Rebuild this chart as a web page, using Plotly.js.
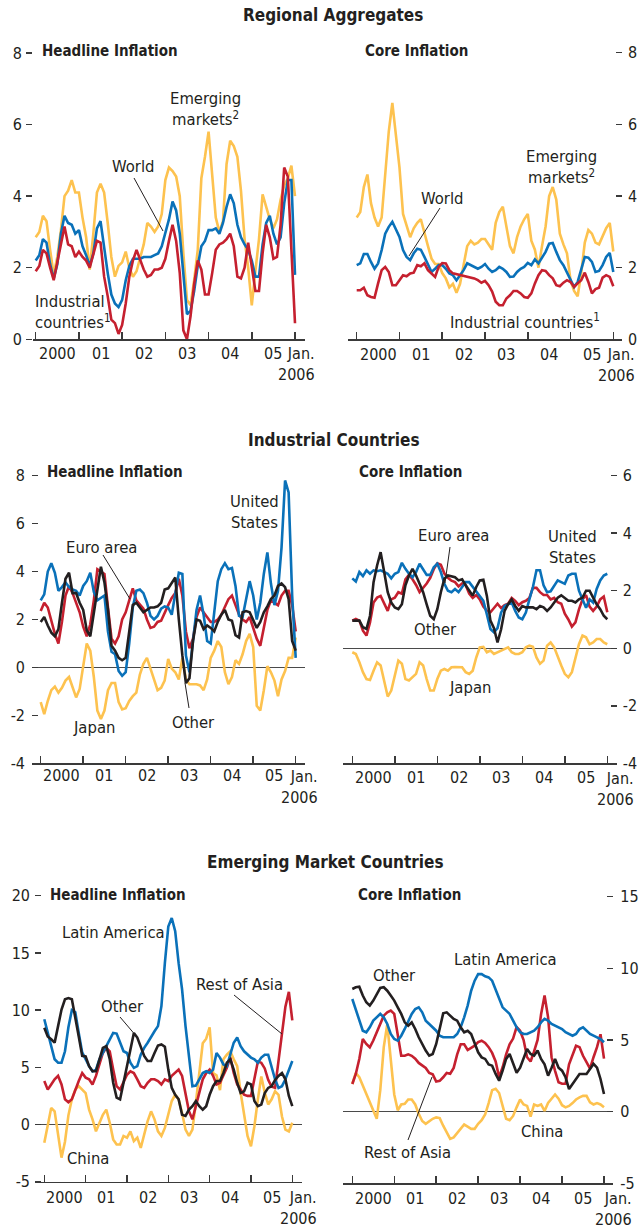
<!DOCTYPE html>
<html><head><meta charset="utf-8">
<script src="https://cdn.plot.ly/plotly-3.0.1.min.js"></script>
<style>html,body{margin:0;padding:0;background:#fff}</style>
</head><body><div id="chart" style="width:639px;height:1228px"></div>
<script>
// ---------- DATA (monthly, Jan 2000 .. Jan 2006) ----------
const monthIndex = [...Array(73).keys()];
const yearTicks = [0,12,24,36,48,60,72];
const yearLabelPos = [6,18,30,42,54,66];
const yearLabels = ['2000','01','02','03','04','05'];
const lastLabel = 'Jan.<br>2006';

// Regional aggregates – headline
const raHeadWorld = [2.2,2.35,2.8,2.7,2.1,1.7,2.1,2.95,3.45,3.25, 3.2,2.95,3.05,2.6,2.35,2.05,2.4,3.1,3.3,2.5, 1.85,1.25,1.0,0.9,1.1,1.65,2.05,2.25,2.25,2.25, 2.3,2.3,2.3,2.35,2.4,2.6,3.0,3.35,3.85,3.6, 2.95,1.75,0.7,0.8,1.35,2.05,2.6,2.75,3.05,3.05, 3.1,2.95,3.25,3.7,4.05,3.8,3.2,2.85,2.65,2.5, 2.2,1.75,1.75,2.65,3.25,3.45,2.95,2.65,2.85,3.8, 4.45,4.45,1.8];
const raHeadIndustrial = [1.9,2.05,2.5,2.4,2.0,1.65,2.15,2.7,3.15,2.65, 2.6,2.3,2.45,2.3,2.2,2.0,2.35,2.75,2.7,1.75, 1.2,0.55,0.45,0.15,0.4,1.0,1.75,2.2,2.5,2.2, 1.95,1.75,1.8,1.95,1.95,2.0,2.25,2.75,3.2,2.75, 1.85,0.25,0.0,0.65,1.55,2.2,1.95,1.25,1.25,1.85, 2.5,2.65,2.7,2.8,2.95,2.6,1.75,1.7,2.0,2.7, 2.0,1.35,1.35,2.4,3.2,2.85,2.25,2.3,3.2,4.8, 4.55,2.5,0.45];
const raHeadEmerging = [2.85,3.0,3.45,3.3,2.5,1.8,2.3,3.05,4.0,4.15, 4.45,4.1,4.1,3.4,2.85,1.95,2.95,4.1,4.35,4.1, 3.25,2.3,1.75,2.05,2.15,2.45,2.0,1.75,1.9,2.3, 2.65,3.25,3.15,3.0,3.15,3.5,4.45,4.8,4.7,4.55, 4.0,2.4,1.1,0.95,1.65,2.5,4.5,5.1,5.8,4.6, 3.4,3.0,3.3,4.9,5.55,5.4,5.1,4.15,2.8,2.0, 0.95,1.9,2.8,4.05,3.7,3.35,3.1,3.35,3.9,4.3, 4.5,4.85,4.0];
// Regional aggregates – core
const raCoreWorld = [2.07,2.12,2.38,2.38,2.16,1.97,2.12,2.49,2.95,3.14, 3.28,3.05,2.86,2.49,2.3,2.21,2.4,2.53,2.5,2.3, 2.07,1.88,1.97,2.07,2.07,1.97,1.84,1.79,1.65,1.79, 1.93,2.12,2.07,2.02,1.97,2.02,2.1,1.97,1.88,1.93, 2.02,1.97,1.88,1.74,1.75,1.88,1.97,2.02,2.13,2.07, 2.23,2.12,2.3,2.44,2.67,2.69,2.44,2.21,2.07,1.88, 1.65,1.46,1.6,1.93,2.3,2.28,2.16,1.88,1.91,2.07, 2.3,2.41,1.88];
const raCoreIndustrial = [1.37,1.37,1.44,1.23,1.18,1.16,1.56,1.93,2.02,1.88, 1.51,1.51,1.65,1.79,1.76,1.84,1.86,2.07,2.04,2.12, 1.93,1.82,1.74,2.02,2.13,2.12,1.93,1.84,1.82,1.79, 1.76,1.76,1.72,1.7,1.65,1.58,1.63,1.51,1.33,1.05, 0.95,0.95,1.14,1.23,1.35,1.35,1.28,1.18,1.16,1.28, 1.56,1.79,1.93,1.91,1.79,1.7,1.51,1.48,1.58,1.65, 1.6,1.46,1.56,1.65,1.86,1.6,1.28,1.4,1.44,1.72, 1.79,1.74,1.48];
const raCoreEmerging = [3.4,3.55,4.25,4.6,3.8,3.4,3.15,3.4,4.6,5.8, 6.6,5.7,4.8,3.5,3.2,2.85,3.1,3.25,3.35,2.95, 2.6,2.25,2.1,2.1,1.85,1.7,1.45,1.55,1.3,1.55, 2.05,2.6,2.75,2.65,2.7,2.8,2.8,2.65,2.5,3.25, 3.55,3.7,3.15,2.6,2.4,2.85,3.15,3.35,3.5,2.75, 2.5,2.0,2.6,3.15,4.0,4.25,3.9,2.95,2.65,2.4, 1.65,1.35,1.2,1.85,2.7,3.05,2.95,2.7,2.65,2.9, 3.1,3.25,2.45];
// Industrial countries – headline
const icHeadUS = [2.8,3.05,4.0,4.35,3.95,3.2,3.35,3.55,3.35,3.25, 3.2,3.0,3.4,3.6,3.95,3.15,2.8,2.9,3.0,1.5, 0.65,0.55,-0.15,-0.35,-0.2,1.0,2.5,3.2,3.25,3.1, 2.7,2.15,2.0,2.15,2.45,2.55,2.5,2.2,3.0,3.95, 3.9,0.5,-0.2,1.0,2.4,3.0,2.2,1.1,1.0,2.3, 3.6,4.1,4.35,4.1,4.15,3.4,2.15,2.1,2.8,3.6, 3.0,2.0,2.7,3.9,4.8,3.5,2.6,3.2,5.0,7.8, 7.3,3.0,0.4];
const icHeadEuro = [2.35,2.7,2.5,1.9,1.4,1.0,1.9,3.0,3.4,3.1, 2.7,2.3,1.7,1.3,1.8,2.8,4.1,4.0,3.9,2.5, 1.2,1.0,1.3,2.0,2.3,2.8,3.3,2.8,2.6,2.45, 2.0,1.65,1.7,1.9,1.95,2.3,2.6,2.9,3.1,3.7, 3.0,1.5,0.8,1.2,2.1,2.5,2.3,2.1,1.9,1.9, 2.0,2.2,2.5,2.85,3.0,2.6,2.2,2.0,1.9,2.1, 1.6,1.2,0.9,1.7,2.4,2.8,2.7,2.6,3.0,3.2, 3.2,2.6,1.5];
const icHeadOther = [1.9,2.1,1.75,1.45,1.3,1.6,2.7,3.7,3.95,3.1, 3.1,2.7,2.4,1.55,1.3,2.3,3.4,4.2,3.55,2.4, 0.9,0.7,0.4,0.3,0.4,1.6,2.6,2.7,2.5,2.3, 2.4,2.5,2.5,2.55,2.7,3.25,3.3,3.55,3.75,2.0, 0.5,-0.65,-0.45,1.1,2.0,1.95,1.6,1.75,1.65,1.5, 1.9,2.2,2.4,2.0,1.95,1.35,1.25,2.3,2.35,2.3, 1.95,1.65,1.9,2.3,2.55,2.85,3.0,3.4,3.5,3.35, 2.85,1.1,0.7];
const icHeadJapan = [-1.45,-1.95,-1.4,-0.95,-0.8,-1.05,-0.85,-0.55,-0.4,-0.85, -1.25,-0.9,0.15,1.0,0.7,-0.4,-1.8,-2.15,-1.8,-0.95, -0.65,-0.65,-1.45,-1.75,-1.7,-1.4,-1.2,-1.05,-0.3,0.15, 0.4,-0.05,-0.55,-0.95,-0.85,-0.55,0.35,-0.05,-0.2,-0.5, 0.4,-0.5,-0.7,-0.7,-0.7,-0.75,-0.95,-0.5,0.4,0.7, 1.1,0.85,-0.2,-0.7,-0.4,0.3,0.15,0.55,1.1,1.4, 0.85,-1.6,-1.8,-0.95,0.05,-0.2,-0.55,-1.2,-0.5,-0.15, 0.4,0.4,1.25];
// Industrial countries – core
const icCoreUS = [2.43,2.32,2.65,2.51,2.71,2.59,2.71,2.68,2.71,2.65, 2.59,2.43,2.59,2.65,2.97,2.76,2.59,2.47,2.65,2.94, 2.76,2.55,2.55,2.82,2.94,2.65,2.24,2.0,1.95,2.06, 1.95,2.13,2.3,2.3,2.13,2.0,1.82,1.65,1.18,0.67, 0.55,0.7,1.24,1.47,1.53,1.59,1.3,1.07,1.01,1.24, 1.7,2.13,2.71,2.71,2.19,1.95,1.98,2.19,2.36,2.3, 2.24,2.53,2.59,2.59,2.0,1.7,1.41,1.7,1.59,2.06, 2.36,2.53,2.59];
const icCoreEuro = [0.96,1.02,0.96,0.61,0.44,0.9,1.59,1.76,1.82,1.53, 1.3,1.7,1.76,1.95,1.9,2.4,2.55,2.4,2.2,1.95, 2.1,2.25,2.45,2.75,2.95,2.9,2.6,2.45,2.35,2.3, 2.15,2.25,2.2,1.9,1.75,1.85,1.7,1.45,1.3,1.25, 1.4,1.55,1.4,1.5,1.55,1.75,1.65,1.5,1.6,1.65, 1.75,2.1,2.1,1.95,1.85,1.85,1.7,1.75,1.6,1.55, 1.2,1.0,0.75,0.9,1.35,1.7,1.85,1.45,1.3,1.45, 1.7,1.8,1.25];
const icCoreOther = [0.96,0.96,0.96,0.73,0.67,1.13,2.3,2.88,3.34,2.65, 1.95,1.59,1.42,1.36,1.53,2.19,2.53,2.76,2.53,2.24, 1.95,1.53,1.13,1.01,1.36,1.95,2.42,2.53,2.5,2.47, 2.36,2.4,2.19,2.01,1.83,2.13,2.36,2.38,1.82,0.96, 0.7,0.2,0.65,1.3,1.53,1.7,1.47,1.3,1.47,1.42, 1.42,1.42,1.36,1.47,1.42,1.3,1.42,1.59,1.76,1.84, 1.76,1.65,1.65,1.59,1.7,1.76,2.0,2.0,1.76,1.53, 1.36,1.13,1.01];
const icCoreJapan = [-0.14,-0.2,-0.49,-0.83,-1.07,-1.1,-0.78,-0.49,-0.6,-1.12, -1.68,-1.47,-0.89,-0.43,-0.54,-1.07,-1.12,-1.01,-0.89,-0.49, -0.6,-1.07,-1.47,-1.47,-1.07,-0.78,-0.72,-0.78,-0.66,-0.65, -0.66,-0.66,-0.83,-0.89,-0.78,-0.32,0.03,0.05,-0.14,-0.08, -0.2,-0.14,-0.1,-0.02,0.03,-0.14,-0.2,-0.2,-0.14,0.03, 0.09,0.05,-0.32,-0.54,-0.43,0.09,0.2,0.03,-0.32,-0.6, -0.89,-1.01,-0.83,-0.32,0.14,0.44,0.38,0.14,0.2,0.32, 0.32,0.2,0.14];
// Emerging market countries – headline
const emHeadLatAm = [9.2,8.0,6.85,5.7,5.4,5.4,6.4,8.5,10.0,9.8, 8.0,6.3,5.7,5.1,4.65,4.8,5.7,6.3,6.85,7.45, 8.0,7.95,7.15,6.4,6.25,5.4,4.95,5.1,6.1,6.7, 7.15,7.7,8.15,8.6,10.35,14.1,17.3,18.05,16.9,14.1, 11.8,8.6,5.7,3.35,3.4,3.95,4.5,4.65,4.5,4.8, 6.25,5.85,5.25,5.1,6.1,7.15,7.6,6.85,6.4,6.1, 5.85,5.7,5.4,5.85,6.1,6.1,5.1,3.95,3.2,3.35, 3.95,4.8,5.55];
const emHeadRestAsia = [3.8,3.05,3.5,3.95,4.25,3.5,2.2,1.95,2.2,3.05, 3.8,4.5,4.1,3.95,3.5,4.25,5.25,6.25,6.7,6.4, 4.8,3.35,3.05,3.65,4.35,4.65,4.5,3.95,3.35,3.2, 3.65,3.95,3.95,3.8,3.5,3.95,3.8,4.25,4.5,4.8, 4.25,2.8,1.15,0.45,1.6,2.8,3.95,4.5,4.8,4.25, 3.5,3.65,4.25,4.95,5.85,4.5,3.5,3.0,2.6,2.5, 2.5,4.0,5.5,5.4,4.9,3.9,3.3,3.2,5.5,8.2, 10.3,11.6,9.1];
const emHeadOther = [8.45,7.7,7.45,7.15,8.6,10.05,10.95,11.05,10.95,9.45, 7.7,6.0,5.95,5.1,4.65,4.65,5.7,6.7,6.85,5.7, 3.65,2.35,2.2,3.65,5.4,6.85,8.0,7.6,6.85,6.0, 5.55,5.55,6.25,6.9,7.0,6.8,4.8,3.2,2.6,2.2, 0.85,0.75,1.3,1.6,2.05,1.6,1.3,1.6,2.6,3.35, 3.8,3.8,4.5,5.4,5.7,4.8,3.65,2.75,2.9,3.65, 3.5,2.05,1.6,1.75,2.75,3.2,3.35,3.9,4.25,4.5, 3.95,2.5,1.6];
const emHeadChina = [-1.6,0.0,1.45,1.15,-0.9,-2.9,-1.5,0.8,2.2,3.05, 3.35,3.05,2.75,1.3,0.45,-0.6,0.15,0.85,1.3,0.15, -1.3,-1.75,-1.75,-1.0,-1.15,-0.6,-1.45,-1.15,-2.05,-0.85, 0.3,1.15,0.45,-0.6,-1.0,-0.3,0.85,2.05,2.6,2.2, 1.0,-0.45,-1.0,-0.45,1.9,4.8,7.1,7.5,8.5,4.5, 4.3,3.0,5.7,6.1,6.4,5.7,5.1,2.8,0.7,-1.0, -1.9,-0.15,2.2,4.2,2.8,1.75,2.2,2.9,2.6,0.7, -0.45,-0.6,0.15];
// Emerging market countries – core
const emCoreLatAm = [7.86,7.16,6.35,5.65,5.54,5.89,6.35,6.58,6.82,6.58, 6.12,5.42,5.07,4.96,5.3,5.77,6.35,6.82,7.16,7.28, 6.93,6.35,6.12,5.89,5.65,5.3,5.19,5.19,5.19,5.19, 5.42,5.89,6.58,7.4,8.44,9.14,9.6,9.6,9.44,9.37, 9.14,8.56,7.86,7.28,7.05,6.82,6.35,5.89,5.54,5.42, 5.42,5.54,5.65,5.89,6.23,6.47,6.35,6.12,6.0,5.89, 5.77,5.54,5.42,5.3,5.42,5.77,5.89,5.65,5.42,5.3, 5.19,5.07,4.84];
const emCoreOther = [8.56,8.68,8.72,8.1,7.63,7.4,7.75,8.21,8.63,8.68, 8.44,8.1,7.75,7.28,6.82,6.23,6.0,6.23,5.77,5.19, 4.72,4.26,3.91,4.02,4.72,5.77,6.86,6.93,6.7,6.47, 6.35,5.89,5.54,5.65,5.42,4.72,4.14,3.79,3.68,3.3, 3.21,2.63,2.16,2.86,3.68,4.02,3.3,2.72,3.07,3.68, 4.37,4.02,3.91,4.26,3.68,3.3,2.51,3.07,3.68,3.07, 2.86,2.4,1.58,1.93,2.28,2.63,2.63,2.63,2.98,3.33, 3.07,2.28,1.23];
const emCoreRestAsia = [1.93,2.63,3.68,5.07,4.72,4.49,4.96,5.54,6.23,6.7, 6.93,7.05,6.82,5.42,3.91,3.9,4.0,3.9,3.7,3.4, 3.2,3.05,2.7,2.6,2.1,2.15,2.4,2.7,2.65,3.05, 4.0,4.7,4.7,4.3,4.45,4.6,4.85,4.95,4.8,4.5, 4.1,3.5,2.4,3.1,4.0,4.7,5.1,5.9,5.65,5.0, 3.8,3.5,4.2,5.0,6.8,8.1,6.6,3.8,2.85,2.05, 1.95,1.95,3.3,4.0,4.6,4.5,3.9,3.45,3.0,3.8, 4.5,5.4,3.7];
const emCoreChina = [1.93,2.7,2.4,1.8,1.2,0.65,0.1,-0.5,1.5,4.5, 6.1,3.6,1.2,0.1,0.5,0.55,0.85,0.85,0.5,-0.15, -0.65,-0.85,-0.65,-0.5,-0.4,-0.45,-0.98,-1.44,-1.9,-1.8, -1.5,-1.2,-0.9,-1.05,-1.2,-1.2,-0.85,-0.6,-0.2,0.6, 1.5,1.6,1.3,0.4,-0.5,-0.6,-0.3,0.3,0.85,0.5, 0.4,-0.35,0.5,0.4,0.5,0.05,0.6,0.9,1.2,0.9, 0.45,0.3,0.4,0.6,0.85,1.0,1.1,1.1,0.65,0.5, 0.6,0.5,0.3];

// ---------- STYLE / LAYOUT ----------
const W = 639, H = 1228;
const FONT = "'DejaVu Sans Condensed', 'Liberation Sans Narrow', sans-serif";
const TXT = '#231F20', AX = '#3a3a3a';
const COL = {yellow:'#FDC24F', blue:'#0A71B9', red:'#C5202F', black:'#231F20'};
const X = v => v / W, Y = v => 1 - v / H;
const PAD = 2; // px of headroom so end ticks are not clipped

const panels = [
  {L:33, R:305, x0:35.7, x72:295, yTop:53, yBot:339.3, ymin:0, ymax:8, major:[0,2,4,6,8], minor:[1,3,5,7], side:'left', ticks:'outside', so:1, labelY:353, title:'Headline Inflation', tx:40, ty:50.7, janR:317,
   series:[[raHeadEmerging,'yellow'],[raHeadWorld,'blue'],[raHeadIndustrial,'red']]},
  {L:348, R:622, x0:356.7, x72:613.3, yTop:52.7, yBot:339.3, ymin:0, ymax:8, major:[0,2,4,6,8], minor:[1,3,5,7], side:'right', so:5, labelY:354, title:'Core Inflation', tx:362.7, ty:50.7, janR:637,
   series:[[raCoreEmerging,'yellow'],[raCoreWorld,'blue'],[raCoreIndustrial,'red']]},
  {L:32, R:305, x0:40.7, x72:295.7, yTop:475.7, yBot:763.3, ymin:-4, ymax:8, major:[-4,-2,0,2,4,6,8], minor:[-3,-1,1,3,5,7], side:'left', ticks:'inside', so:6, labelY:776, title:'Headline Inflation', tx:45, ty:471.7, janR:320,
   series:[[icHeadJapan,'yellow'],[icHeadEuro,'red'],[icHeadUS,'blue'],[icHeadOther,'black']]},
  {L:342.7, R:616.7, x0:352.3, x72:607.3, yTop:475.7, yBot:763.3, ymin:-4, ymax:6, major:[-4,-2,0,2,4,6], minor:[-3,-1,1,3,5], side:'right', so:5, labelY:778, title:'Core Inflation', tx:356.7, ty:472.3, janR:636,
   series:[[icCoreJapan,'yellow'],[icCoreEuro,'red'],[icCoreUS,'blue'],[icCoreOther,'black']]},
  {L:35, R:302, x0:44.3, x72:292.3, yTop:895.7, yBot:1181.7, ymin:-5, ymax:20, major:[-5,0,5,10,15,20], minor:[-2.5,2.5,7.5,12.5,17.5], side:'left', ticks:'inside', so:4, labelY:1197, title:'Headline Inflation', tx:48, ty:895, janR:319,
   series:[[emHeadChina,'yellow'],[emHeadRestAsia,'red'],[emHeadLatAm,'blue'],[emHeadOther,'black']]},
  {L:342.7, R:613.3, x0:352.3, x72:604, yTop:896.7, yBot:1183.3, ymin:-5, ymax:15, major:[-5,0,5,10,15], minor:[-2.5,2.5,7.5,12.5], side:'right', so:6, labelY:1198, title:'Core Inflation', tx:356, ty:895, janR:634,
   series:[[emCoreChina,'yellow'],[emCoreRestAsia,'red'],[emCoreLatAm,'blue'],[emCoreOther,'black']]}
];

const traces = [], annotations = [], shapes = [];
const layout = {
  width:W, height:H, margin:{l:0,r:0,t:0,b:0}, paper_bgcolor:'#fff', plot_bgcolor:'rgba(0,0,0,0)',
  showlegend:false, font:{family:FONT, color:TXT, size:16}, hovermode:false
};
const tickFont = {family:FONT, size:16, color:TXT};

function tickAxis(overSfx, xSfx, side, dir, vals, len, range) {
  return {overlaying:'y' + overSfx, anchor:'x' + xSfx, side:side, range:range,
    showline:false, showgrid:false, zeroline:false, ticks:dir, tickmode:'array', tickvals:vals, ticklen:len,
    tickwidth:1.5, tickcolor:AX, showticklabels:false, fixedrange:true};
}

panels.forEach((p, k) => {
  const i = k + 1, sfx = i === 1 ? '' : String(i);
  const s = (p.x72 - p.x0) / 72;
  const ys = (p.yBot - p.yTop) / (p.ymax - p.ymin);
  const range = [p.ymin - PAD / ys, p.ymax + PAD / ys];
  const other = p.side === 'left' ? 'right' : 'left';
  const labDir = p.side === 'left' ? p.ticks : 'inside';
  layout['xaxis' + sfx] = {
    domain:[X(p.L), X(p.R)], range:[(p.L - p.x0) / s, (p.R - p.x0) / s], anchor:'free', position:Y(p.yBot),
    showline:true, linecolor:AX, linewidth:1.5, ticks:'inside', tickmode:'array', tickvals:yearTicks, ticklen:7, tickwidth:1.5,
    tickcolor:AX, showticklabels:false, showgrid:false, zeroline:false, fixedrange:true
  };
  layout['yaxis' + sfx] = {
    domain:[Y(p.yBot + PAD), Y(p.yTop - PAD)], range:range, anchor:'x' + sfx, side:p.side,
    showline:false, showgrid:false, zeroline:p.ymin < 0, zerolinecolor:'#4a4a4a', zerolinewidth:1,
    ticks:labDir, tickmode:'array', tickvals:p.major, ticktext:p.major.map(String),
    ticklen:6, tickwidth:1.5, tickcolor:AX, showticklabels:true, tickfont:tickFont, ticklabelstandoff:p.so,
    fixedrange:true
  };
  layout['yaxis' + (i + 6)] = tickAxis(sfx, sfx, p.side, labDir, p.minor, 3.5, range);
  layout['yaxis' + (i + 12)] = tickAxis(sfx, sfx, other, 'inside', p.major, 6, range);
  layout['yaxis' + (i + 18)] = tickAxis(sfx, sfx, other, 'inside', p.minor, 3.5, range);

  p.series.forEach(([arr, c]) => traces.push({
    x:monthIndex, y:arr, xaxis:'x' + sfx, yaxis:'y' + sfx, type:'scatter', mode:'lines',
    line:{color:COL[c], width:2.6}, hoverinfo:'skip'
  }));
  yearLabelPos.forEach((v, j) => annotations.push({
    x:v, xref:'x' + sfx, y:Y(p.labelY), yref:'paper', text:yearLabels[j], showarrow:false,
    xanchor:'center', yanchor:'middle', font:tickFont
  }));
  annotations.push({x:X(p.janR), xref:'paper', y:Y(p.labelY + 11), yref:'paper', text:lastLabel, showarrow:false,
    xanchor:'right', yanchor:'middle', align:'right', font:tickFont});
  annotations.push({x:X(p.tx), xref:'paper', y:Y(p.ty), yref:'paper', text:'<b>' + p.title + '</b>', showarrow:false,
    xanchor:'left', yanchor:'middle', font:{family:FONT, size:15, color:TXT}});
});

// Section titles
[['Regional Aggregates', 333, 15], ['Industrial Countries', 334, 440], ['Emerging Market Countries', 325, 862]]
  .forEach(([t, cx, cy]) => annotations.push({x:X(cx), xref:'paper', y:Y(cy), yref:'paper', text:'<b>' + t + '</b>',
    showarrow:false, xanchor:'center', yanchor:'middle', font:{family:FONT, size:17, color:TXT}}));

// Series labels
const seriesLabels = [
  ['Emerging<br>markets<sup>2</sup>', 205, 109, 'center'],
  ['World', 132.5, 166.7, 'center'],
  ['Industrial<br>countries<sup>1</sup>', 33, 311.5, 'left'],
  ['World', 442, 199, 'center'],
  ['Emerging<br>markets<sup>2</sup>', 561, 167, 'center'],
  ['Industrial countries<sup>1</sup>', 525, 321, 'center'],
  ['United<br>States', 254.5, 512, 'center'],
  ['Euro area', 101, 547.5, 'center'],
  ['Japan', 93.5, 727, 'center'],
  ['Other', 193.5, 722.5, 'center'],
  ['Euro area', 453.7, 535, 'center'],
  ['United<br>States', 572.7, 547, 'center'],
  ['Other', 435, 629, 'center'],
  ['Japan', 470, 687.5, 'center'],
  ['Latin America', 113.3, 932.5, 'center'],
  ['Other', 122.7, 1006, 'center'],
  ['Rest of Asia', 239, 984, 'center'],
  ['China', 88.3, 1158, 'center'],
  ['Other', 394, 975, 'center'],
  ['Latin America', 505.7, 959.7, 'center'],
  ['Rest of Asia', 407, 1152.5, 'center'],
  ['China', 541.7, 1131, 'center']
];
seriesLabels.forEach(([t, cx, cy, al]) => annotations.push({
  x:X(cx), xref:'paper', y:Y(cy), yref:'paper', text:t, showarrow:false,
  xanchor:al, yanchor:'middle', align:al, font:{family:FONT, size:16.5, color:TXT}
}));

// Leader lines
[[134,178,163,231],[440,208,409,256],[103,555,130,599],[189,708,185,683],[450,547,445,583],
 [120,1017,137,1037],[234,995,282,1034],[408,1140,432,1077]]
  .forEach(([a, b, c, d]) => shapes.push({type:'line', xref:'paper', yref:'paper',
    x0:X(a), y0:Y(b), x1:X(c), y1:Y(d), line:{color:TXT, width:1}}));

layout.annotations = annotations;
layout.shapes = shapes;
Plotly.newPlot('chart', traces, layout, {staticPlot:true, displayModeBar:false});
</script></body></html>
